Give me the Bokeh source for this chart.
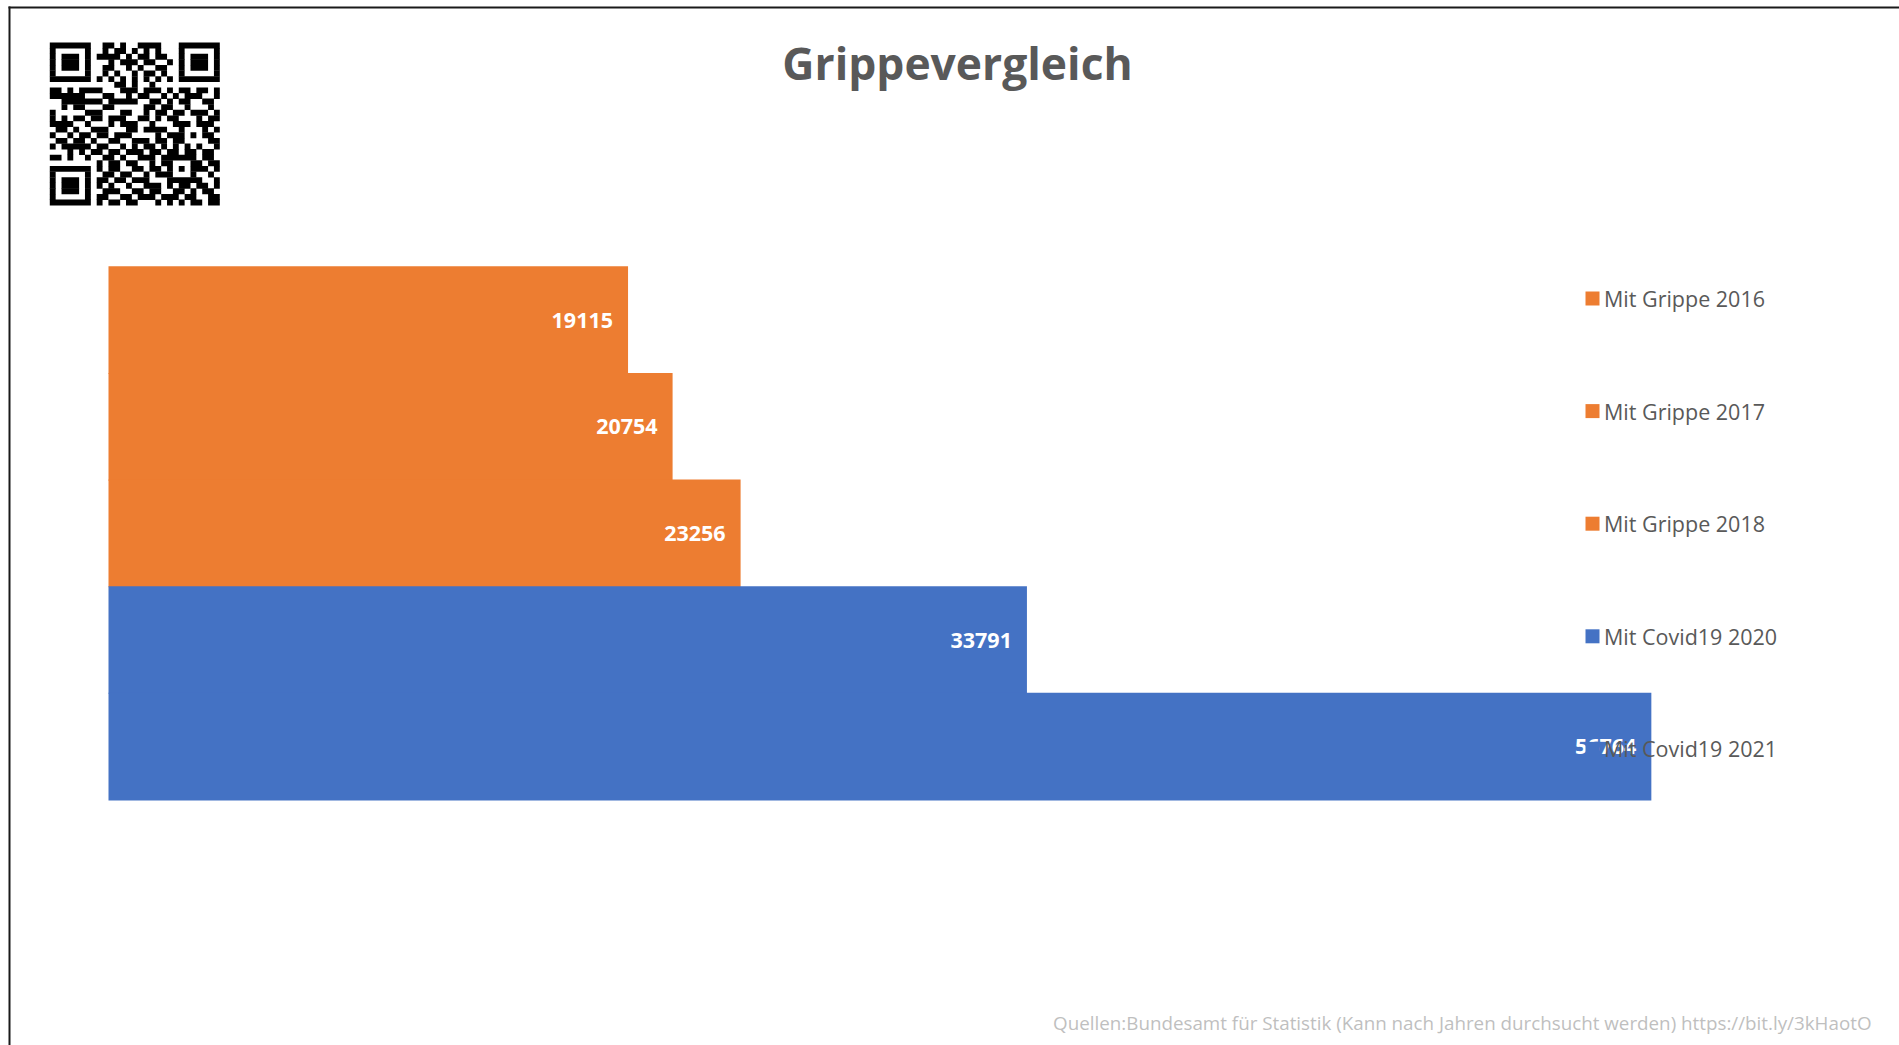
from bokeh.plotting import figure
from bokeh.models import Range1d, ColumnDataSource, Label
from bokeh.core.properties import value
from bokeh.embed import file_html
from bokeh.resources import INLINE

# ---------------- data ----------------
title_text = "Grippevergleich"
categories = ["Mit Grippe 2016", "Mit Grippe 2017", "Mit Grippe 2018",
              "Mit Covid19 2020", "Mit Covid19 2021"]
deaths = [19115, 20754, 23256, 33791, 56764]
bar_colors = ["#ED7D31", "#ED7D31", "#ED7D31", "#4472C4", "#4472C4"]
source_note = ("Quellen:Bundesamt für Statistik (Kann nach Jahren durchsucht werden) "
               "https://bit.ly/3kHaotO")

# decorative QR code (module matrix, 1 = dark)
QR_ROWS = [
    "1111111" "0" "0110100111100" "0" "1111111",
    "1000001" "0" "0101101010100" "0" "1000001",
    "1011101" "0" "1111010110110" "0" "1011101",
    "1011101" "0" "0010111011001" "0" "1011101",
    "1011101" "0" "0110010100110" "0" "1011101",
    "1000001" "0" "0101001011010" "0" "1000001",
    "1111111" "0" "1010101010101" "0" "1111111",
    "0000000" "0" "0001101001000" "0" "0000000",
    "1101011" "1" "1000111011101" "0" "1101101",
    "1111110" "0" "0110010110010" "1" "0111001",
    "0011111" "1" "1011111001101" "0" "1100110",
    "0010110" "0" "0110000011011" "0" "0100010",
    "1000001" "1" "1000110010110" "1" "1011101",
    "1010110" "1" "1011100110101" "1" "0001011",
    "1111001" "0" "0010111001000" "1" "1101110",
    "0110100" "1" "1100011011110" "0" "1000101",
    "1001011" "0" "1101110000101" "1" "1010110",
    "0110110" "1" "0011001110110" "1" "1000011",
    "1011111" "0" "1100101011010" "1" "0101001",
    "0001010" "1" "1011011101101" "1" "0110110",
    "1101001" "0" "011010011101" "11111" "0110",
    "0000000" "0" "101101100101" "10001" "1011",
    "1111111" "0" "101100110110" "10101" "1101",
    "1000001" "0" "011011001011" "10001" "0010",
    "1011101" "0" "110110111000" "11111" "1001",
    "1011101" "0" "101001001110" "101101101",
    "1011101" "0" "011100110110" "011010110",
    "1000001" "0" "110011011101" "110110011",
    "1111111" "0" "101101100010" "101011011",
]

# ---------------- layout (canvas pixels) ----------------
W, H = 1899, 1045
X0 = 108.0              # canvas x of value 0
PX_PER_UNIT = 0.02718   # horizontal scale
ROW_PX = 106.6          # height of one category row
FIRST_TOP = 266.4       # canvas y of the top of the first bar

n = len(categories)
Y_END = (n - 0.5) + FIRST_TOP / ROW_PX
Y_START = Y_END - H / ROW_PX


def sx(cx):
    return (cx - X0) / PX_PER_UNIT


def sy(cy):
    return Y_END - cy / ROW_PX


p = figure(width=W, height=H,
           x_range=Range1d(sx(0), sx(W)), y_range=Range1d(Y_START, Y_END),
           output_backend="svg", toolbar_location=None,
           x_axis_location=None, y_axis_location=None,
           min_border=0, outline_line_color=None,
           background_fill_color="white", border_fill_color="white")
p.grid.visible = False

ypos = [n - 1 - i for i in range(n)]
src = ColumnDataSource(dict(
    y=ypos, deaths=deaths, color=bar_colors, cat=categories,
    label=[str(v) for v in deaths]))

# bars
p.hbar(y="y", left=0, right="deaths", height=1.01, fill_color="color",
       line_color=None, source=src)

# value labels inside bar ends
p.text(x="deaths", y="y", text="label", x_offset=-15, text_align="right",
       text_baseline="middle", text_color="white",
       text_font=value("Open Sans"), text_font_style="bold",
       text_font_size="21.5px", source=src)

# legend (drawn on top of the labels)
LEG_SQ_X = 1592
LEG_TXT_X = 1603.5
LEG_TOP = 298.0
LEG_STEP = 112.6
leg = ColumnDataSource(dict(
    y=[sy(LEG_TOP + i * LEG_STEP) for i in range(n)],
    cat=categories, color=bar_colors))
p.scatter(x=sx(LEG_SQ_X), y="y", marker="square", size=14,
          fill_color="color", line_color=None, source=leg)
p.text(x=sx(LEG_TXT_X), y="y", text="cat", text_align="left",
       text_baseline="middle", text_color="#595959",
       text_font=value("Open Sans"), text_font_size="21.5px", source=leg)

# title
p.add_layout(Label(x=sx(957), y=sy(62), text=title_text, text_align="center",
                   text_baseline="middle", text_color="#595959",
                   text_font="Open Sans", text_font_style="bold",
                   text_font_size="44.4px"))

# source note
p.add_layout(Label(x=sx(1871), y=sy(1022), text=source_note, text_align="right",
                   text_baseline="middle", text_color="#BFBFBF",
                   text_font="Open Sans", text_font_size="18.8px"))

# QR code (decorative)
QX, QY = 49.3, 42.0
MW, MH = 170.0 / 29, 162.7 / 29
ql, qr, qt, qb = [], [], [], []
for r, row in enumerate(QR_ROWS):
    row = (row + "0" * 29)[:29]
    c = 0
    while c < 29:
        if row[c] == "1":
            c0 = c
            while c < 29 and row[c] == "1":
                c += 1
            ql.append(sx(QX + c0 * MW))
            qr.append(sx(QX + c * MW))
            qt.append(sy(QY + r * MH))
            qb.append(sy(QY + (r + 1) * MH + 0.3))
        else:
            c += 1
p.quad(left=ql, right=qr, top=qt, bottom=qb, fill_color="black",
       line_color=None)

# chart-area border (top and left edges visible; right/bottom beyond view)
p.segment(x0=[sx(8), sx(9)], y0=[sy(7), sy(6)], x1=[sx(W), sx(9)],
          y1=[sy(7), sy(H)], line_color="#1a1a1a", line_width=2)

open("out.html", "w").write(file_html(p, INLINE))
